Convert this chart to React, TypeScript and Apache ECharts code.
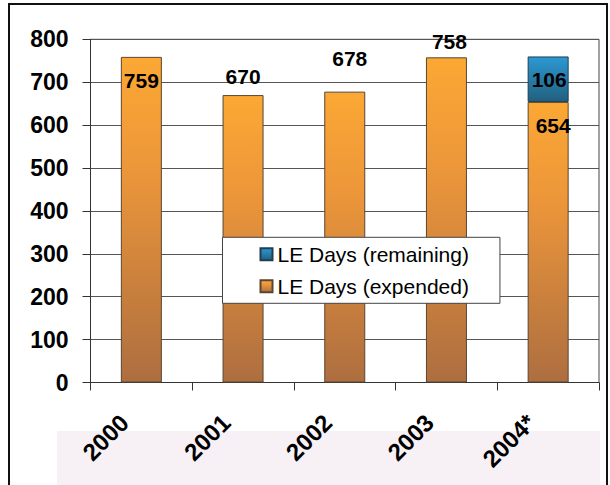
import { useEffect, useRef } from 'react';
import * as echarts from 'echarts';

const categories = ['2000', '2001', '2002', '2003', '2004*'];
const expendedDays = [759, 670, 678, 758, 654];
const remainingDays: (number | null)[] = [null, null, null, null, 106];
const seriesNames = ['LE Days (remaining)', 'LE Days (expended)'];
const yMin = 0;
const yMax = 800;
const yStep = 100;

const FONT = 'Arial, "Liberation Sans", Helvetica, sans-serif';

// label placement offsets (style only): [dx, dy from bar top]
const expendedLabelPos = [
  [0, 24],
  [0, -19],
  [5, -33],
  [3, -16],
  [5, 24],
];
const remainingLabelPos = [0, 0, 0, 0, 1].map((dx) => [dx, 23]);

export default function App() {
  const ref = useRef<HTMLDivElement>(null);
  useEffect(() => {
    document.body.style.margin = '0';
    const chart = echarts.init(ref.current!, null, { renderer: 'svg' });
    const orange = new echarts.graphic.LinearGradient(0, 0, 0, 1, [
      { offset: 0, color: '#FBA834' },
      { offset: 0.35, color: '#EC963A' },
      { offset: 1, color: '#AD6E40' },
    ]);
    const blue = new echarts.graphic.LinearGradient(0, 0, 0, 1, [
      { offset: 0, color: '#2C98D3' },
      { offset: 1, color: '#22607F' },
    ]);
    const labelBase = {
      show: true,
      color: '#000',
      fontFamily: FONT,
      fontWeight: 'bold',
      fontSize: 21,
      align: 'center',
      verticalAlign: 'middle',
    };
    const option: any = {
      animation: false,
      backgroundColor: '#fff',
      textStyle: { fontFamily: FONT },
      grid: {
        left: 90.5,
        right: 11,
        top: 39.3,
        bottom: 102.5,
        show: true,
        borderColor: '#444',
        borderWidth: 1,
        outerBoundsMode: 'none',
      },
      graphic: [
        {
          type: 'rect',
          z: -10,
          silent: true,
          shape: { x: 57, y: 431, width: 543, height: 60 },
          style: { fill: '#F7F0F5' },
        },
        {
          type: 'rect',
          z: 100,
          silent: true,
          shape: { x: 9, y: 4, width: 598, height: 500 },
          style: { fill: 'none', stroke: '#111', lineWidth: 2 },
        },
      ],
      legend: {
        orient: 'vertical',
        left: 222.5,
        top: 237.3,
        data: seriesNames,
        padding: [6.5, 31, 6.5, 37],
        itemGap: 11,
        itemWidth: 12,
        itemHeight: 12,
        icon: 'rect',
        backgroundColor: '#fff',
        borderColor: '#444',
        borderWidth: 1,
        borderRadius: 0,
        textStyle: { fontFamily: FONT, fontSize: 21, color: '#000' },
      },
      xAxis: {
        type: 'category',
        data: categories,
        axisLine: { lineStyle: { color: '#333', width: 1 } },
        axisTick: { show: true, length: 8, lineStyle: { color: '#333' } },
        axisLabel: {
          interval: 0,
          rotate: 45,
          margin: 19,
          padding: [0, 24, 0, 0],
          color: '#000',
          fontFamily: FONT,
          fontWeight: 'bold',
          fontSize: 24,
        },
      },
      yAxis: {
        type: 'value',
        min: yMin,
        max: yMax,
        interval: yStep,
        axisLine: { show: true, lineStyle: { color: '#333', width: 1 } },
        axisTick: { show: true, length: 8, lineStyle: { color: '#333' } },
        splitLine: { lineStyle: { color: '#555', width: 1 } },
        axisLabel: {
          margin: 22,
          color: '#000',
          fontFamily: FONT,
          fontWeight: 'bold',
          fontSize: 23,
        },
      },
      series: [
        {
          name: seriesNames[1],
          type: 'bar',
          stack: 'days',
          barWidth: 41,
          itemStyle: { color: orange, borderColor: '#5a4630', borderWidth: 1 },
          label: labelBase,
          data: expendedDays.map((v, i) => ({
            value: v,
            label: {
              position: ['50%', expendedLabelPos[i][1]],
              offset: [expendedLabelPos[i][0], 0],
            },
          })),
        },
        {
          name: seriesNames[0],
          type: 'bar',
          stack: 'days',
          barWidth: 41,
          itemStyle: { color: blue, borderColor: '#1d3f55', borderWidth: 1 },
          label: labelBase,
          data: remainingDays.map((v, i) =>
            v == null
              ? '-'
              : {
                  value: v,
                  label: {
                    position: ['50%', remainingLabelPos[i][1]],
                    offset: [remainingLabelPos[i][0], 0],
                  },
                }
          ),
        },
      ],
    };
    chart.setOption(option);
    return () => chart.dispose();
  }, []);
  return (
    <div
      ref={ref}
      style={{ position: 'absolute', left: 0, top: 0, width: 610, height: 485 }}
    />
  );
}
